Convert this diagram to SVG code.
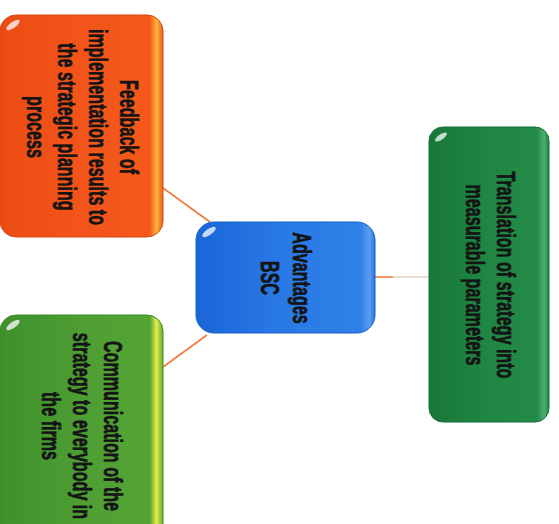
<svg xmlns="http://www.w3.org/2000/svg" width="559" height="524" viewBox="0 0 559 524">
  <style>
    .lbl { font-family: "Liberation Sans", Arial, sans-serif; font-weight: bold; font-size: 26px; fill: #141414; stroke: #141414; stroke-width: 0.7; text-anchor: middle; }
    .conn { stroke: #f07a3a; stroke-width: 1.6; fill: none; }
    .spark { fill: #ffffff; opacity: 0.75; }
  </style>
  <defs>
    <linearGradient id="gOrange" x1="0" y1="0" x2="1" y2="0">
      <stop offset="0" stop-color="#ea4c14"/>
      <stop offset="0.5" stop-color="#f2541a"/>
      <stop offset="0.92" stop-color="#f4591a"/>
      <stop offset="0.96" stop-color="#ffb43a"/>
      <stop offset="1" stop-color="#e8601c"/>
    </linearGradient>
    <linearGradient id="gGreen" x1="0" y1="0" x2="1" y2="0">
      <stop offset="0" stop-color="#3f8f2c"/>
      <stop offset="0.5" stop-color="#4e9e34"/>
      <stop offset="0.92" stop-color="#54a434"/>
      <stop offset="0.96" stop-color="#e4ee4a"/>
      <stop offset="1" stop-color="#6aa82e"/>
    </linearGradient>
    <linearGradient id="gBlue" x1="0" y1="0" x2="1" y2="0">
      <stop offset="0" stop-color="#1a66d8"/>
      <stop offset="0.5" stop-color="#2a7ae6"/>
      <stop offset="0.92" stop-color="#3080e8"/>
      <stop offset="0.97" stop-color="#5a9cf0"/>
      <stop offset="1" stop-color="#2a74dc"/>
    </linearGradient>
    <linearGradient id="gDark" x1="0" y1="0" x2="1" y2="0">
      <stop offset="0" stop-color="#187838"/>
      <stop offset="0.5" stop-color="#1f8644"/>
      <stop offset="0.9" stop-color="#238a48"/>
      <stop offset="0.96" stop-color="#4cb070"/>
      <stop offset="1" stop-color="#1f8040"/>
    </linearGradient>
  </defs>
  <rect width="559" height="524" fill="#ffffff"/>

  <g id="connectors">
    <line class="conn" x1="163" y1="188" x2="210" y2="222"/>
    <line class="conn" x1="207" y1="335" x2="163" y2="367"/>
    <line class="conn" x1="375" y1="277" x2="393" y2="277"/>
    <line x1="393" y1="277" x2="429" y2="277" stroke="#e6cfc0" stroke-width="1.6"/>
  </g>

  <g id="node-feedback">
    <rect x="0" y="15" width="163" height="222" rx="16" fill="url(#gOrange)" stroke="#d9480f" stroke-width="1"/>
    <ellipse class="spark" cx="13" cy="25" rx="8" ry="3" transform="rotate(-35 13 25)"/>
    <g transform="translate(82 127) rotate(90) scale(0.62 1)">
      <text class="lbl" x="0" y="-38">Feedback of</text>
      <text class="lbl" x="0" y="-7">implementation results to</text>
      <text class="lbl" x="0" y="24">the strategic planning</text>
      <text class="lbl" x="0" y="55">process</text>
    </g>
  </g>

  <g id="node-communication">
    <rect x="0" y="315" width="163" height="225" rx="16" fill="url(#gGreen)" stroke="#3c8a26" stroke-width="1"/>
    <ellipse class="spark" cx="13" cy="325" rx="8" ry="3" transform="rotate(-35 13 325)"/>
    <g transform="translate(82 426) rotate(90) scale(0.62 1)">
      <text class="lbl" x="0" y="-22">Communication of the</text>
      <text class="lbl" x="0" y="9">strategy to everybody in</text>
      <text class="lbl" x="0" y="40">the firms</text>
    </g>
  </g>

  <g id="node-advantages">
    <rect x="196" y="222" width="179" height="111" rx="18" fill="url(#gBlue)" stroke="#1a60c8" stroke-width="1"/>
    <ellipse class="spark" cx="209" cy="232" rx="8" ry="3" transform="rotate(-35 209 232)"/>
    <g transform="translate(285 278) rotate(90) scale(0.62 1)">
      <text class="lbl" x="0" y="-8">Advantages</text>
      <text class="lbl" x="0" y="24">BSC</text>
    </g>
  </g>

  <g id="node-translation">
    <rect x="429" y="127" width="120" height="295" rx="14" fill="url(#gDark)" stroke="#15703a" stroke-width="1"/>
    <ellipse class="spark" cx="441" cy="137" rx="7" ry="2.6" transform="rotate(-35 441 137)"/>
    <g transform="translate(489 275) rotate(90) scale(0.62 1)">
      <text class="lbl" x="0" y="-8">Translation of strategy into</text>
      <text class="lbl" x="0" y="23">measurable parameters</text>
    </g>
  </g>
</svg>
